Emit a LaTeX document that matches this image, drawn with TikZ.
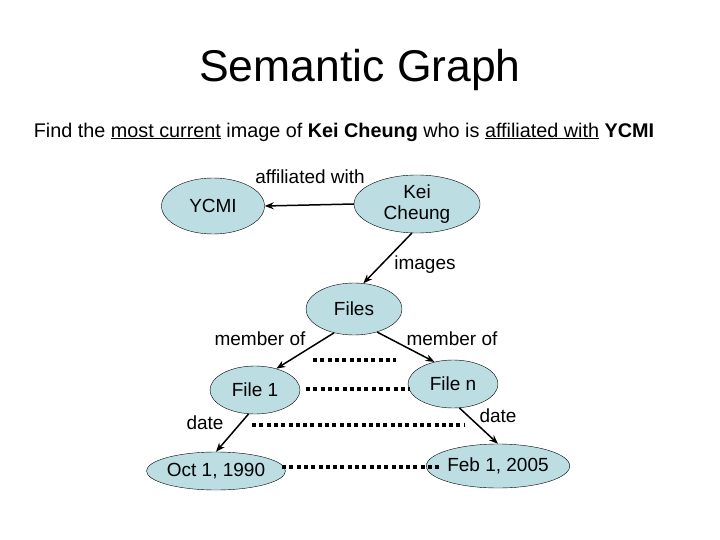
\documentclass[tikz,border=0pt]{standalone}
\usepackage{fontspec}
\setmainfont{Liberation Sans}
\usetikzlibrary{shapes.geometric,arrows.meta}
\begin{document}
\begin{tikzpicture}[x=1pt,y=-1pt,
  ell/.style={ellipse,draw=black,fill=nodeblue,inner sep=0pt,font=\fontsize{19}{21}\selectfont,align=center},
  arr/.style={-{Stealth[length=9pt,width=7pt]},line width=1.5pt},
  dots/.style={line width=4pt,dash pattern=on 4pt off 3.3pt},
  lab/.style={font=\fontsize{19}{21}\selectfont}]
\definecolor{nodeblue}{HTML}{BCDEE3}
\useasboundingbox (0,0) rectangle (720,540);
\node[font=\fontsize{44.5}{48}\selectfont] (title) at (360,70) {Semantic Graph};
\node[font=\fontsize{19.8}{22}\selectfont] (sub) at (344,132) {Find the \underline{most current} image of \textbf{Kei Cheung} who is \underline{affiliated with} \textbf{YCMI}};
\node[ell,minimum width=103pt,minimum height=56pt] (ycmi) at (213,206) {YCMI};
\node[ell,minimum width=126pt,minimum height=58pt] (kei) at (417,204) {Kei\\Cheung};
\node[ell,minimum width=96pt,minimum height=52pt] (files) at (354,309) {Files};
\node[ell,minimum width=90pt,minimum height=48pt] (f1) at (255,390) {File 1};
\node[ell,minimum width=90pt,minimum height=48pt] (fn) at (453,384) {File n};
\node[ell,minimum width=108pt,minimum height=38pt] (oct) at (216,471) {Oct 1, 1990};
\node[ell,minimum width=108pt,minimum height=44pt] (feb) at (498,466) {Feb 1, 2005};
\draw[arr] (kei.west) -- (ycmi.east);
\draw[arr] (kei.-100) -- (files.70);
\draw[arr] (files.-130) -- (f1.45);
\draw[arr] (files.-45) -- (fn.130);
\draw[arr] (f1.-105) -- (oct.90);
\draw[arr] (fn.-75) -- (feb.90);
\node[lab] (l1) at (310,177) {affiliated with};
\node[lab] (l2) at (425,265) {images};
\node[lab] (l3) at (260,339) {member of};
\node[lab] (l4) at (452,339) {member of};
\node[lab] (l5) at (205,423) {date};
\node[lab] (l6) at (498,416) {date};
\coordinate (d1a) at (313,360); \coordinate (d1b) at (396,360);
\coordinate (d2a) at (306,389); \coordinate (d2b) at (410,389);
\coordinate (d3a) at (252,425); \coordinate (d3b) at (465,425);
\coordinate (d4a) at (282,467); \coordinate (d4b) at (440,467);
\draw[dots] (d1a) -- (d1b);
\draw[dots] (d2a) -- (d2b);
\draw[dots] (d3a) -- (d3b);
\draw[dots] (d4a) -- (d4b);
\end{tikzpicture}
\end{document}
